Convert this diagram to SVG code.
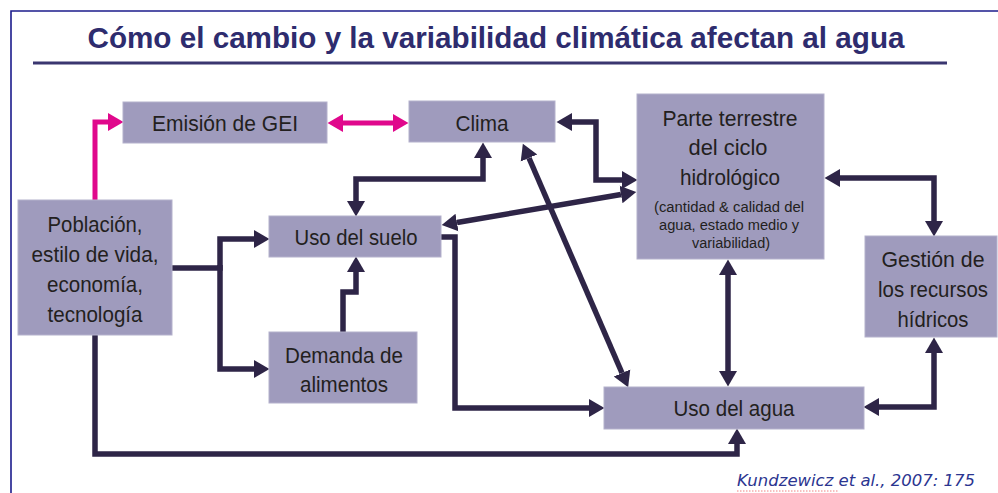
<svg xmlns="http://www.w3.org/2000/svg" width="998" height="493" viewBox="0 0 998 493">
<defs>
<marker id="ah" markerUnits="userSpaceOnUse" markerWidth="16" markerHeight="20" refX="0" refY="10" orient="auto-start-reverse" viewBox="0 0 16 20">
<path d="M0,1 L15.5,10 L0,19 z" fill="#2e2547"/>
</marker>
<marker id="ahp" markerUnits="userSpaceOnUse" markerWidth="16" markerHeight="20" refX="0" refY="10" orient="auto-start-reverse" viewBox="0 0 16 20">
<path d="M0,1 L15.5,10 L0,19 z" fill="#e0088c"/>
</marker>
</defs>
<style>
.box{fill:#9f9bbd;stroke:#b4b1cc;stroke-width:1}
.t{font-family:"Liberation Sans",Arial,sans-serif;font-size:22px;fill:#231f20;text-anchor:middle}
.s{font-family:"Liberation Sans",Arial,sans-serif;font-size:14px;fill:#231f20;text-anchor:middle}
.c{fill:none;stroke:#2e2547;stroke-width:5.5;stroke-linejoin:miter}
.p{fill:none;stroke:#e0088c;stroke-width:5;stroke-linejoin:miter}
</style>
<rect width="998" height="493" fill="#ffffff"/>
<g id="frame">
<path d="M11,493 V11 H998" fill="none" stroke="#1c1c8c" stroke-width="1.6"/>
<line x1="33" y1="63" x2="947" y2="63" stroke="#3a3670" stroke-width="3"/>
</g>
<g id="title">
<text x="496" y="48" font-family="'Liberation Sans',Arial,sans-serif" font-size="30" font-weight="bold" fill="#2e2c6e" text-anchor="middle" textLength="817" lengthAdjust="spacingAndGlyphs">Cómo el cambio y la variabilidad climática afectan al agua</text>
</g>
<g id="connectors">
<path class="p" d="M95,200 V122 H108" marker-end="url(#ahp)"/>
<path class="p" d="M343,123 H393" marker-start="url(#ahp)" marker-end="url(#ahp)"/>
<path class="c" d="M356,201 V179 H483 V158" marker-start="url(#ah)" marker-end="url(#ah)"/>
<path class="c" d="M572,122 H596 V180 H622" marker-start="url(#ah)" marker-end="url(#ah)"/>
<path class="c" d="M457,222.5 L621,194.5" marker-start="url(#ah)" marker-end="url(#ah)"/>
<path class="c" d="M529,158 L622,373" marker-start="url(#ah)" marker-end="url(#ah)"/>
<path class="c" d="M728,275 V371" marker-start="url(#ah)" marker-end="url(#ah)"/>
<path class="c" d="M840,178 H934 V221" marker-start="url(#ah)" marker-end="url(#ah)"/>
<path class="c" d="M934,353 V407 H879" marker-start="url(#ah)" marker-end="url(#ah)"/>
<path class="c" d="M172,268 H220 V239 H254" marker-end="url(#ah)"/>
<path class="c" d="M220,265 V369 H254" marker-end="url(#ah)"/>
<path class="c" d="M343,332 V292 H356 V272" marker-end="url(#ah)"/>
<path class="c" d="M441,237 H455 V408 H589" marker-end="url(#ah)"/>
<path class="c" d="M95,335 V454 H737 V444" marker-end="url(#ah)"/>
</g>
<g id="emision">
<rect class="box" x="123" y="102" width="204" height="41"/>
<text class="t" x="225" y="131" textLength="146" lengthAdjust="spacingAndGlyphs">Emisión de GEI</text>
</g>
<g id="clima">
<rect class="box" x="409" y="101" width="146" height="41"/>
<text class="t" x="482" y="131" textLength="53" lengthAdjust="spacingAndGlyphs">Clima</text>
</g>
<g id="parte">
<rect class="box" x="637" y="94" width="187" height="165"/>
<text class="t" x="730" y="126" textLength="135" lengthAdjust="spacingAndGlyphs">Parte terrestre</text>
<text class="t" x="728" y="155" textLength="79" lengthAdjust="spacingAndGlyphs">del ciclo</text>
<text class="t" x="730" y="185" textLength="100" lengthAdjust="spacingAndGlyphs">hidrológico</text>
<text class="s" x="729" y="212" textLength="150" lengthAdjust="spacingAndGlyphs">(cantidad &amp; calidad del</text>
<text class="s" x="729" y="230" textLength="140" lengthAdjust="spacingAndGlyphs">agua, estado medio y</text>
<text class="s" x="731" y="248" textLength="78" lengthAdjust="spacingAndGlyphs">variabilidad)</text>
</g>
<g id="poblacion">
<rect class="box" x="18" y="200" width="154" height="135"/>
<text class="t" x="95" y="232" textLength="95" lengthAdjust="spacingAndGlyphs">Población,</text>
<text class="t" x="95" y="262" textLength="127" lengthAdjust="spacingAndGlyphs">estilo de vida,</text>
<text class="t" x="95" y="292" textLength="96" lengthAdjust="spacingAndGlyphs">economía,</text>
<text class="t" x="95" y="322" textLength="95" lengthAdjust="spacingAndGlyphs">tecnología</text>
</g>
<g id="suelo">
<rect class="box" x="269" y="216" width="172" height="41"/>
<text class="t" x="356" y="245" textLength="123" lengthAdjust="spacingAndGlyphs">Uso del suelo</text>
</g>
<g id="demanda">
<rect class="box" x="269" y="332" width="148" height="71"/>
<text class="t" x="344" y="363" textLength="118" lengthAdjust="spacingAndGlyphs">Demanda de</text>
<text class="t" x="344" y="392" textLength="88" lengthAdjust="spacingAndGlyphs">alimentos</text>
</g>
<g id="gestion">
<rect class="box" x="865" y="236" width="132" height="101"/>
<text class="t" x="933" y="267" textLength="103" lengthAdjust="spacingAndGlyphs">Gestión de</text>
<text class="t" x="933" y="297" textLength="110" lengthAdjust="spacingAndGlyphs">los recursos</text>
<text class="t" x="933" y="327" textLength="71" lengthAdjust="spacingAndGlyphs">hídricos</text>
</g>
<g id="agua">
<rect class="box" x="604" y="387" width="260" height="42"/>
<text class="t" x="734" y="416" textLength="121" lengthAdjust="spacingAndGlyphs">Uso del agua</text>
</g>
<g id="cita">
<text x="737" y="486" font-family="'DejaVu Sans',Verdana,sans-serif" font-style="italic" font-size="15" fill="#2b3590" textLength="238" lengthAdjust="spacingAndGlyphs">Kundzewicz et al., 2007: 175</text>
<line x1="737" y1="491" x2="838" y2="491" stroke="#f08080" stroke-width="1" stroke-dasharray="1.5,1.5"/>
</g>
</svg>
